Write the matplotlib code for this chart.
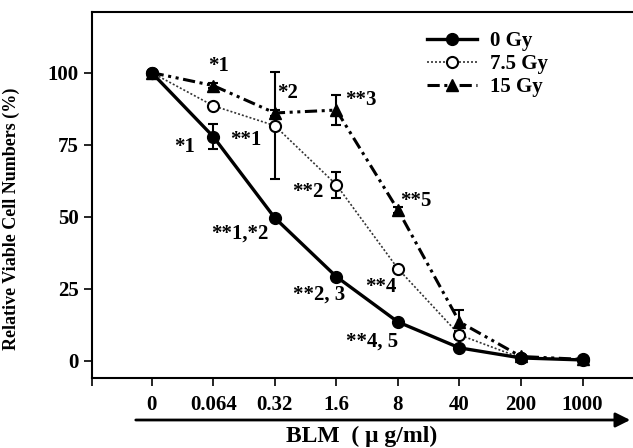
import matplotlib
matplotlib.use("Agg")
import matplotlib.pyplot as plt
from matplotlib.lines import Line2D
from matplotlib.patches import FancyArrowPatch

# BLM doses (categorical, equally spaced)
doses = ["0", "0.064", "0.32", "1.6", "8", "40", "200", "1000"]

# relative viable cell numbers (%)
gy0 = [100, 77.8, 49.6, 29.2, 13.5, 4.5, 1.0, 0.3]
gy75 = [100, 88.5, 81.6, 61.1, 32.0, 9.0, 1.0, 0.5]
gy15 = [100, 95.5, 86.0, 87.0, 52.4, 13.5, 1.5, 0.5]

err0 = [0.5, 4.2, 0.8, 0.8, 0.8, 0.8, 0.3, 0.3]
err75 = [0.5, 0.8, 18.6, 4.5, 0.8, 1.5, 0.3, 0.3]
err15 = [0.5, 1.0, 1.0, 5.2, 1.0, 4.0, 0.3, 0.3]

# significance marks: (text, x, y)
marks = [
    ("*1", 1.09, 102.4),
    ("*2", 2.21, 93.1),
    ("**3", 3.40, 90.6),
    ("**5", 4.29, 55.6),
    ("**1", 1.53, 76.7),
    ("*1", 0.54, 74.3),
    ("**2", 2.54, 58.7),
    ("**1,*2", 1.43, 44.0),
    ("**2, 3", 2.72, 22.9),
    ("**4", 3.72, 25.7),
    ("**4, 5", 3.58, 6.6),
]

plt.rcParams['font.family'] = ['Liberation Serif', 'DejaVu Serif']
plt.rcParams['font.weight'] = 'bold'

fig = plt.figure(figsize=(6.33, 4.48), dpi=100)
ax = fig.add_axes([0.1453, 0.156, 0.8547, 0.817])

x = list(range(len(doses)))

style0 = dict(color='black', lw=2.4, marker='o', ms=8.5, mfc='black',
              mec='black')
style75 = dict(color='#333333', lw=1.2, linestyle=(0, (1.2, 1.2)),
               marker='o', ms=8, mfc='white', mec='black', mew=1.5)
style15 = dict(color='black', lw=2.2, linestyle=(0, (4, 1.5, 1, 1.5, 1, 1.5)),
               marker='^', ms=8.5, mfc='black', mec='black')
ebar = dict(ecolor='black', capsize=3.5, elinewidth=1.5, capthick=1.5)

ax.errorbar(x, gy0, yerr=err0, zorder=4, **style0, **ebar)
ax.errorbar(x, gy75, yerr=err75, zorder=3, **style75, **ebar)
ax.errorbar(x, gy15, yerr=err15, zorder=3, **style15, **ebar)

for txt, tx, ty in marks:
    ax.text(tx, ty, txt, fontsize=15, fontweight='bold', ha='center',
            va='center')

ax.set_xlim(-0.97, 7.82)
ax.set_ylim(-6, 121)
ax.set_xticks(x)
ax.set_xticklabels(doses)
ax.set_xticks([-0.97], minor=True)
ax.set_yticks([0, 25, 50, 75, 100])
ax.tick_params(axis='both', which='both', direction='out', length=6,
               width=1.2, labelsize=15)
ax.tick_params(axis='x', pad=6)
ax.spines['right'].set_visible(False)
for s in ['left', 'top', 'bottom']:
    ax.spines[s].set_linewidth(1.5)

ax.set_ylabel('Relative Viable Cell Numbers (%)', fontsize=13,
              fontweight='bold')
ax.yaxis.set_label_coords(-0.133, 0.434)

handles = [Line2D([], [], **style0), Line2D([], [], **style75),
           Line2D([], [], **style15)]
ax.legend(handles, ['0 Gy', '7.5 Gy', '15 Gy'], loc='upper left',
          bbox_to_anchor=(0.585, 1.0), frameon=False, fontsize=15,
          handlelength=2.4, labelspacing=0.15, handletextpad=0.6)

# axis arrow and label below tick labels
fig.add_artist(FancyArrowPatch(
    (133 / 633, 1 - 420 / 448), (633 / 633, 1 - 420 / 448),
    transform=fig.transFigure, arrowstyle='-|>', mutation_scale=22,
    lw=2, color='black'))
fig.text(362 / 633, 1 - 442 / 448, 'BLM  ( μ g/ml)', fontsize=17,
         fontweight='bold', ha='center', va='baseline')

fig.savefig('out.png', dpi=100)
